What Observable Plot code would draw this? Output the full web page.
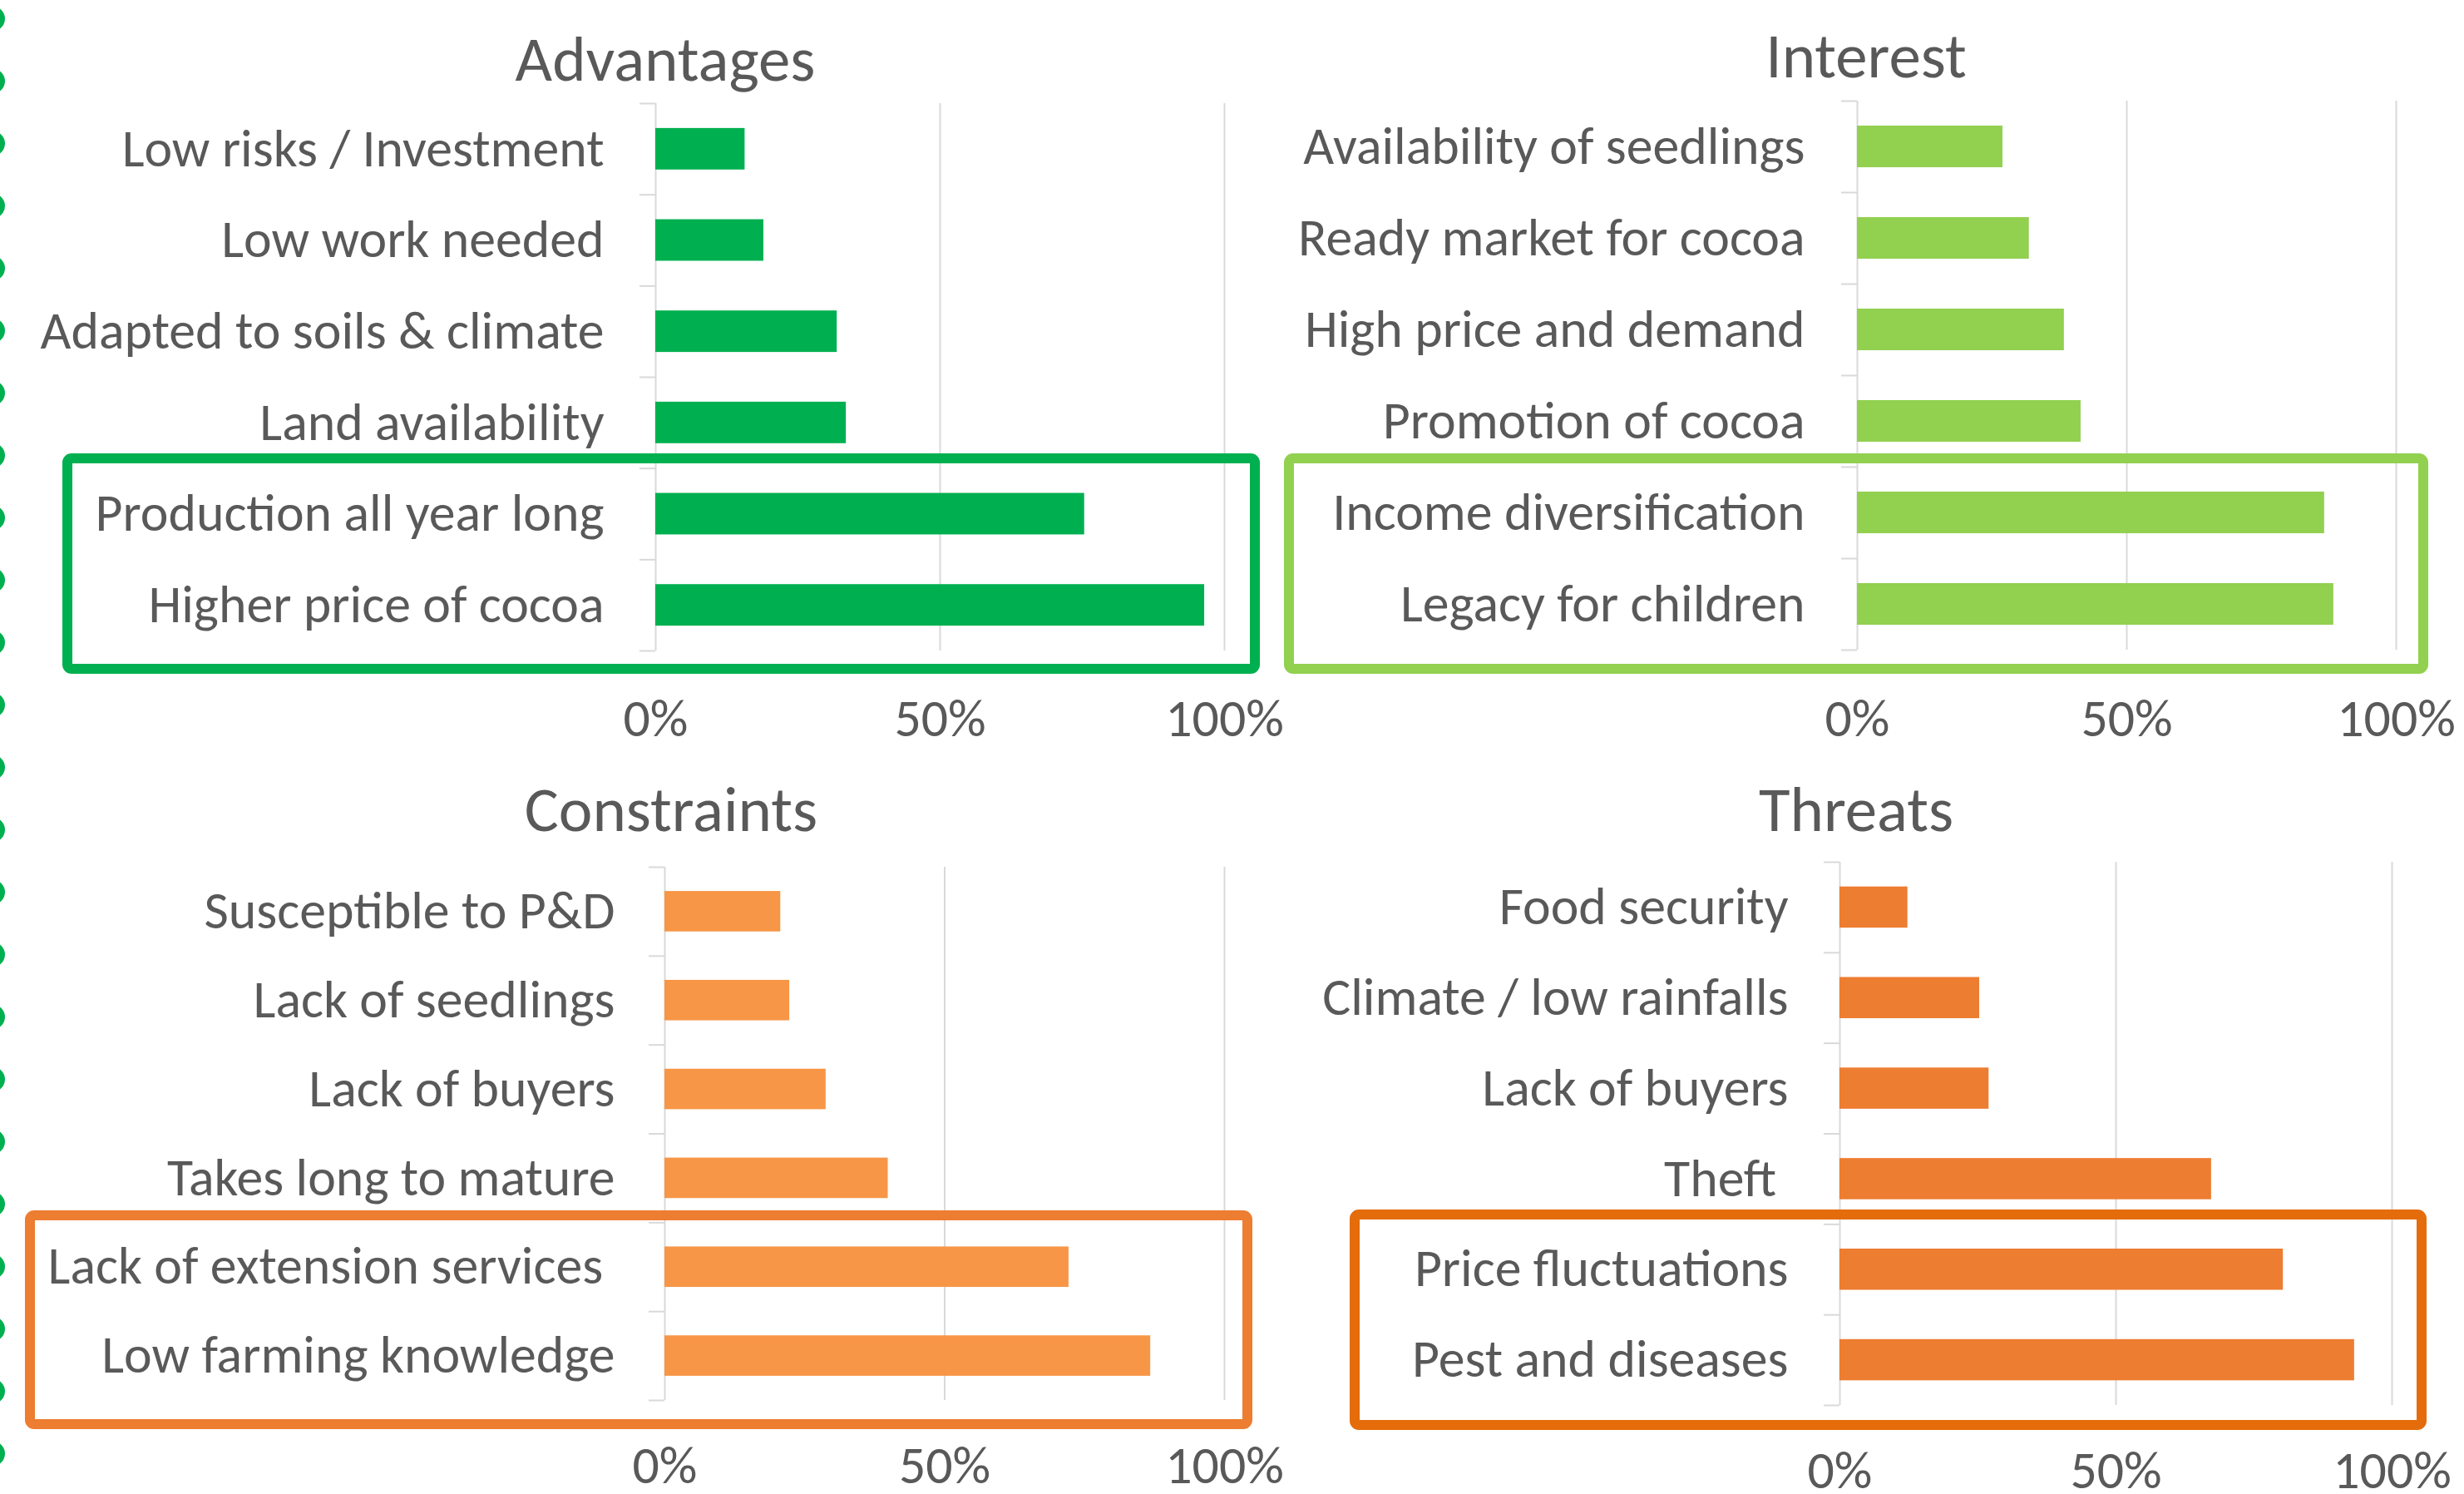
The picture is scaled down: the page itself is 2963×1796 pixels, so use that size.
<!DOCTYPE html>
<html><head><meta charset="utf-8">
<script src="https://cdn.jsdelivr.net/npm/d3@7"></script>
<script src="https://cdn.jsdelivr.net/npm/@observablehq/plot@0.6"></script>
<style>
html,body{margin:0;padding:0;background:#fff;}
#page{position:relative;width:2963px;height:1796px;overflow:hidden;background:#fff;}
</style></head>
<body><div id="page"></div>
<script>
// ---------------- DATA ----------------
const advantagesCats = ["Low risks / Investment","Low work needed","Adapted to soils & climate","Land availability","Production all year long","Higher price of cocoa"];
const advantagesVals = [15.7, 19.0, 31.9, 33.5, 75.4, 96.5];
const advantagesHighlight = ["Production all year long","Higher price of cocoa"];

const interestCats = ["Availability of seedlings","Ready market for cocoa","High price and demand","Promotion of cocoa","Income diversification","Legacy for children"];
const interestVals = [27.0, 31.9, 38.4, 41.5, 86.7, 88.4];
const interestHighlight = ["Income diversification","Legacy for children"];

const constraintsCats = ["Susceptible to P&D","Lack of seedlings","Lack of buyers","Takes long to mature","Lack of extension services\u00A0","Low farming knowledge"];
const constraintsVals = [20.7, 22.3, 28.8, 39.9, 72.2, 86.8];
const constraintsHighlight = ["Lack of extension services\u00A0","Low farming knowledge"];

const threatsCats = ["Food security","Climate / low rainfalls","Lack of buyers","Theft\u00A0","Price fluctuations","Pest and diseases"];
const threatsVals = [12.3, 25.3, 27.0, 67.3, 80.3, 93.2];
const threatsHighlight = ["Price fluctuations","Pest and diseases"];

const xTicks = [0, 50, 100];
const panelTitles = ["Advantages","Interest","Constraints","Threats"];

// ---------------- FONT ----------------
const ctx = document.createElement("canvas").getContext("2d");
function w(font, s){ ctx.font = font; return ctx.measureText(s).width; }
function hasFont(name){
  const s = "Adapted to soils & climate WMmwil 0123456789";
  return w(`72px "${name}", monospace`, s) !== w("72px monospace", s) ||
         w(`72px "${name}", serif`, s) !== w("72px serif", s);
}
const fontName = ["Carlito","Calibri","Liberation Sans Narrow","Open Sans","Noto Sans","Liberation Sans"].find(hasFont) || "sans-serif";
const fontFamily = `"${fontName}", sans-serif`;
const squeeze = 678 / w(`63px ${fontFamily}`, "Adapted to soils & climate");

function squeezeText(root){
  if (Math.abs(squeeze - 1) < 0.005) return;
  root.querySelectorAll("text").forEach(t => {
    const L = t.getComputedTextLength();
    if (L > 0) { t.setAttribute("textLength", (L * squeeze).toFixed(2)); t.setAttribute("lengthAdjust", "spacingAndGlyphs"); }
  });
}

// ---------------- LAYOUT ----------------
const panels = [
  {title: panelTitles[0], cats: advantagesCats, values: advantagesVals, highlight: advantagesHighlight, color: "#00B050", boxColor: "#00B050",
   svg: {left: 0, top: 0, width: 1540, height: 900}, plot: {x0: 788, x1: 1472, y0: 124, y1: 782},
   labelGap: 62, tickBaseline: 884, box: {l: 81, r: 1509, t: 551, b: 804}, titleAt: {x: 800, y: 97}},
  {title: panelTitles[1], cats: interestCats, values: interestVals, highlight: interestHighlight, color: "#92D050", boxColor: "#92D050",
   svg: {left: 1530, top: 0, width: 1433, height: 900}, plot: {x0: 2233, x1: 2881, y0: 121, y1: 781},
   labelGap: 63, tickBaseline: 884, box: {l: 1550, r: 2914, t: 551, b: 804}, titleAt: {x: 2244, y: 93}},
  {title: panelTitles[2], cats: constraintsCats, values: constraintsVals, highlight: constraintsHighlight, color: "#F79646", boxColor: "#ED7D31",
   svg: {left: 0, top: 900, width: 1540, height: 896}, plot: {x0: 799, x1: 1472, y0: 1042, y1: 1683},
   labelGap: 60, tickBaseline: 1782, box: {l: 36, r: 1500, t: 1461, b: 1712}, titleAt: {x: 807, y: 999}},
  {title: panelTitles[3], cats: threatsCats, values: threatsVals, highlight: threatsHighlight, color: "#ED7D31", boxColor: "#E46C0A",
   svg: {left: 1530, top: 900, width: 1433, height: 896}, plot: {x0: 2212, x1: 2876, y0: 1036, y1: 1689},
   labelGap: 62, tickBaseline: 1788, box: {l: 1629, r: 2912, t: 1460, b: 1713}, titleAt: {x: 2232, y: 999}}
];

const FS = 63, TITLE_FS = 76, TEXT = "#595959", GRID = "#D9D9D9";

function makePanel(p, k){
  const n = p.cats.length;
  const rows = p.cats.map((c, i) => ({cat: c, value: p.values[i], i}));
  const step = (p.plot.y1 - p.plot.y0) / n;
  const inset = step * 0.2725;
  const hi = rows.filter(r => p.highlight.includes(r.cat));
  const hiStart = d3.min(hi, r => r.i), hiEnd = d3.max(hi, r => r.i) + 1;
  const s = p.svg;
  const mL = p.plot.x0 - s.left, mR = s.left + s.width - p.plot.x1;
  const mT = p.plot.y0 - s.top, mB = s.top + s.height - p.plot.y1;
  const boxTopPx = p.plot.y0 + hiStart * step, boxBotPx = p.plot.y0 + hiEnd * step;
  const chart = Plot.plot({
    width: s.width, height: s.height,
    marginLeft: mL, marginRight: mR, marginTop: mT, marginBottom: mB,
    style: {fontFamily, color: TEXT, background: "transparent", overflow: "visible"},
    x: {domain: [0, 100], axis: null, label: null},
    y: {domain: [0, n], reverse: true, axis: null, label: null},
    marks: [
      Plot.ruleX(xTicks, {stroke: GRID, strokeWidth: 2}),
      Plot.axisY(d3.range(n + 1), {tickSize: 19, tickFormat: () => "", label: null, stroke: GRID, strokeWidth: 2}),
      Plot.rect(rows, {x1: () => 0, x2: "value", y1: "i", y2: r => r.i + 1, fill: p.color, insetTop: inset, insetBottom: inset}),
      Plot.axisY(rows.map(r => r.i + 0.5), {tickSize: 0, tickPadding: p.labelGap, tickFormat: v => p.cats[Math.floor(v)], label: null, fontSize: FS, fill: TEXT}),
      Plot.axisX(xTicks, {tickSize: 0, tickPadding: p.tickBaseline - p.plot.y1 - 0.71 * FS, tickFormat: d => d + "%", label: null, fontSize: FS, fill: TEXT}),
      Plot.rect([{y1: hiStart, y2: hiEnd}], {x1: () => 0, x2: () => 100, y1: "y1", y2: "y2",
        fill: "none", stroke: p.boxColor, strokeWidth: 12, rx: 5, ariaLabel: "highlight-box",
        insetLeft: -(p.plot.x0 - p.box.l), insetRight: -(p.box.r - p.plot.x1),
        insetTop: -(boxTopPx - p.box.t), insetBottom: -(p.box.b - boxBotPx)})
    ]
  });
  // drop shadow for the highlight box
  const ns = "http://www.w3.org/2000/svg";
  const defs = document.createElementNS(ns, "defs");
  defs.innerHTML = `<filter id="shadow${k}" x="-5%" y="-10%" width="110%" height="125%"><feDropShadow dx="2" dy="3" stdDeviation="2.5" flood-color="#000" flood-opacity="0.35"/></filter>`;
  chart.insertBefore(defs, chart.firstChild);
  const g = chart.querySelector('[aria-label="highlight-box"]');
  if (g) g.setAttribute("filter", `url(#shadow${k})`);
  chart.style.position = "absolute";
  chart.style.left = s.left + "px";
  chart.style.top = s.top + "px";
  chart.style.maxWidth = "none";
  return chart;
}

const page = document.getElementById("page");
panels.forEach((p, k) => {
  const c = makePanel(p, k);
  page.appendChild(c);
  squeezeText(c);
});

// overlay: titles + decorative dotted border on the left edge
const ns = "http://www.w3.org/2000/svg";
const ov = document.createElementNS(ns, "svg");
ov.setAttribute("width", 2963); ov.setAttribute("height", 1796);
ov.style.position = "absolute"; ov.style.left = "0px"; ov.style.top = "0px"; ov.style.pointerEvents = "none";
const dots = document.createElementNS(ns, "line");
Object.entries({x1: -9, y1: 22.5, x2: -9, y2: 1796, stroke: "#00B050", "stroke-width": 30, "stroke-linecap": "round", "stroke-dasharray": "0 75"})
  .forEach(([a, v]) => dots.setAttribute(a, v));
ov.appendChild(dots);
panels.forEach(p => {
  const t = document.createElementNS(ns, "text");
  t.setAttribute("x", p.titleAt.x); t.setAttribute("y", p.titleAt.y);
  t.setAttribute("text-anchor", "middle");
  t.setAttribute("fill", TEXT);
  t.setAttribute("font-size", TITLE_FS);
  t.setAttribute("font-family", fontFamily);
  t.textContent = p.title;
  ov.appendChild(t);
});
page.appendChild(ov);
squeezeText(ov);
</script>
</body></html>
